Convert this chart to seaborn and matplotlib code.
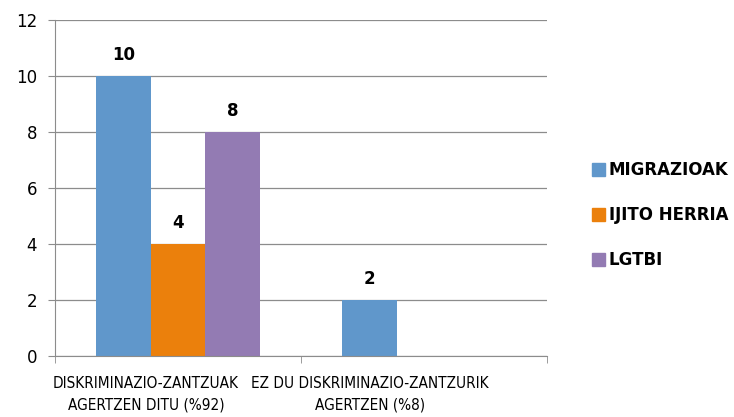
import numpy as np
import pandas as pd
import seaborn as sns
import matplotlib.pyplot as plt
import matplotlib.transforms as mtransforms
from matplotlib.patches import Patch

# data
categories = ["DISKRIMINAZIO-ZANTZUAK\nAGERTZEN DITU (%92)", "EZ DU DISKRIMINAZIO-ZANTZURIK\nAGERTZEN (%8)"]
groups = ["MIGRAZIOAK", "IJITO HERRIA", "LGTBI"]
migrazioak = [10, 2]
ijito_herria = [4, np.nan]
lgtbi = [8, np.nan]
colors = ["#6097CB", "#EB800C", "#937BB3"]

rows = []
for g, vals in zip(groups, [migrazioak, ijito_herria, lgtbi]):
    for c, v in zip(categories, vals):
        if not np.isnan(v):
            rows.append({"category": c, "group": g, "value": v})
df = pd.DataFrame(rows)

sns.set_style("white")
plt.rcParams["font.family"] = ["DejaVu Sans"]
plt.rcParams["text.color"] = "black"
plt.rcParams["xtick.color"] = "black"
plt.rcParams["ytick.color"] = "black"

fig = plt.figure(figsize=(7.34, 4.17), dpi=100)
ax = fig.add_axes([0.075, 0.146, 0.67, 0.806])

sns.barplot(data=df, x="category", y="value", hue="group", order=categories,
            hue_order=groups, palette=colors, width=0.667, linewidth=0,
            saturation=1, ax=ax, legend=False)

for cont in ax.containers:
    labels = ["%d" % v if v > 0 else "" for v in cont.datavalues]
    ax.bar_label(cont, labels=labels, padding=9, fontsize=12, fontweight="bold")

ax.set_ylim(0, 12)
ax.set_yticks(range(0, 13, 2))
ax.set_xlim(-0.5, 1.5)
ax.set_xlabel("")
ax.set_ylabel("")
ax.yaxis.grid(True, color="#8c8c8c", linewidth=0.9)
ax.set_axisbelow(True)
for s in ["top", "right"]:
    ax.spines[s].set_visible(False)
ax.spines["left"].set_color("#8c8c8c")
ax.spines["bottom"].set_color("#8c8c8c")

ax.tick_params(axis="y", length=5, color="#8c8c8c", labelsize=12, left=True, pad=8)
ax.set_xticks([-0.5, 0.5, 1.5], minor=True)
ax.tick_params(axis="x", which="minor", length=5, color="#8c8c8c", bottom=True)
ax.tick_params(axis="x", which="major", length=0, labelsize=11, pad=14)

# the category labels sit left of the category centres in the original
shifts = [-32, -54]
for t, dx in zip(ax.get_xticklabels(), shifts):
    t.set_fontstretch("condensed")
    t.set_linespacing(1.55)
    t.set_transform(t.get_transform() + mtransforms.ScaledTranslation(dx / 100, 0, fig.dpi_scale_trans))

handles = [Patch(color=c) for c in colors]
fig.legend(handles, groups, loc="center left", bbox_to_anchor=(0.806, 0.484),
           frameon=False, handlelength=0.78, handleheight=0.78, handletextpad=0.25,
           labelspacing=1.62, borderpad=0, borderaxespad=0,
           prop={"weight": "bold", "size": 12})

fig.savefig("out.png", dpi=100)
